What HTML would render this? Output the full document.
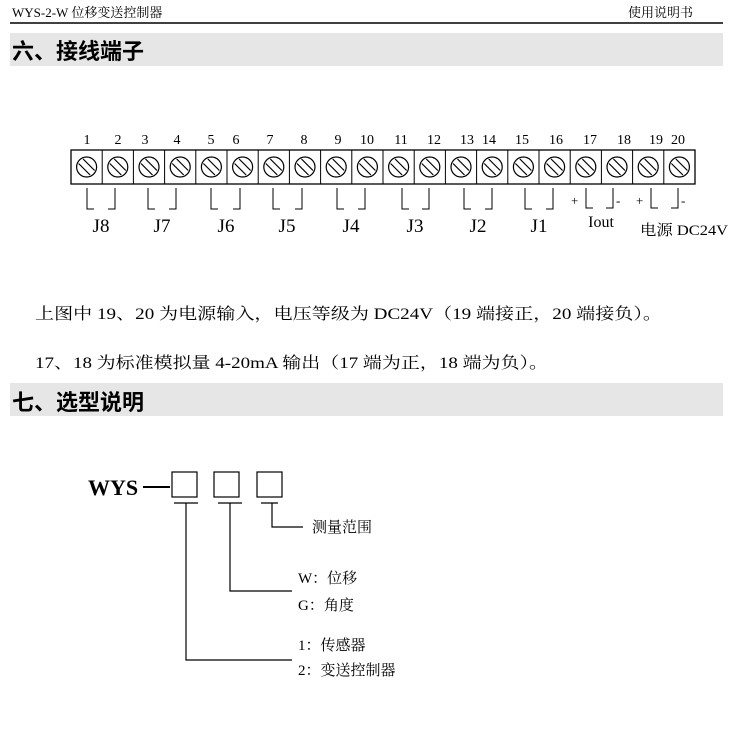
<!DOCTYPE html>
<html><head><meta charset="utf-8"><style>
html,body{margin:0;padding:0;background:#fff;}
svg{display:block;}
.s{font-family:"Liberation Serif","Noto Serif CJK SC",serif;}
.h{font-family:"Liberation Sans","Noto Sans CJK SC",sans-serif;font-weight:bold;}
</style></head><body>
<svg width="750" height="749" viewBox="0 0 750 749" xmlns="http://www.w3.org/2000/svg">
<defs>
<g id="sc"><circle r="10" fill="none" stroke="#000" stroke-width="1.2"/><line x1="-8" y1="-3.5" x2="3.5" y2="8" stroke="#000" stroke-width="1.2"/><line x1="-3.5" y1="-8" x2="8" y2="3.5" stroke="#000" stroke-width="1.2"/></g>
</defs>
<text class="s" x="12" y="17" font-size="13">WYS-2-W 位移变送控制器</text>
<text class="s" x="628" y="17" font-size="13">使用说明书</text>
<line x1="10" y1="23" x2="723" y2="23" stroke="#000" stroke-width="1.5"/>
<rect x="10" y="33" width="713" height="33" fill="#e6e6e6"/>
<text class="h" x="12" y="59" font-size="22">六、接线端子</text>

<g class="s" font-size="14" text-anchor="middle">
<text x="87" y="144">1</text><text x="118" y="144">2</text><text x="145" y="144">3</text><text x="177" y="144">4</text><text x="211" y="144">5</text><text x="236" y="144">6</text><text x="270" y="144">7</text><text x="304" y="144">8</text><text x="338" y="144">9</text><text x="367" y="144">10</text><text x="401" y="144">11</text><text x="434" y="144">12</text><text x="467" y="144">13</text><text x="489" y="144">14</text><text x="522" y="144">15</text><text x="556" y="144">16</text><text x="590" y="144">17</text><text x="624" y="144">18</text><text x="656" y="144">19</text><text x="678" y="144">20</text>
</g>
<rect x="71" y="150" width="624" height="34" fill="none" stroke="#000" stroke-width="1.3"/>
<g stroke="#000" stroke-width="1">
<line x1="102.2" y1="150" x2="102.2" y2="184"/><line x1="133.4" y1="150" x2="133.4" y2="184"/><line x1="164.6" y1="150" x2="164.6" y2="184"/><line x1="195.8" y1="150" x2="195.8" y2="184"/><line x1="227" y1="150" x2="227" y2="184"/><line x1="258.2" y1="150" x2="258.2" y2="184"/><line x1="289.4" y1="150" x2="289.4" y2="184"/><line x1="320.6" y1="150" x2="320.6" y2="184"/><line x1="351.8" y1="150" x2="351.8" y2="184"/><line x1="383" y1="150" x2="383" y2="184"/><line x1="414.2" y1="150" x2="414.2" y2="184"/><line x1="445.4" y1="150" x2="445.4" y2="184"/><line x1="476.6" y1="150" x2="476.6" y2="184"/><line x1="507.8" y1="150" x2="507.8" y2="184"/><line x1="539" y1="150" x2="539" y2="184"/><line x1="570.2" y1="150" x2="570.2" y2="184"/><line x1="601.4" y1="150" x2="601.4" y2="184"/><line x1="632.6" y1="150" x2="632.6" y2="184"/><line x1="663.8" y1="150" x2="663.8" y2="184"/>
</g>
<g transform="translate(0,167)">
<use href="#sc" x="86.6"/><use href="#sc" x="117.8"/><use href="#sc" x="149"/><use href="#sc" x="180.2"/><use href="#sc" x="211.4"/><use href="#sc" x="242.6"/><use href="#sc" x="273.8"/><use href="#sc" x="305"/><use href="#sc" x="336.2"/><use href="#sc" x="367.4"/><use href="#sc" x="398.6"/><use href="#sc" x="429.8"/><use href="#sc" x="461"/><use href="#sc" x="492.2"/><use href="#sc" x="523.4"/><use href="#sc" x="554.6"/><use href="#sc" x="585.8"/><use href="#sc" x="617"/><use href="#sc" x="648.2"/><use href="#sc" x="679.4"/>
</g>
<g fill="none" stroke="#000" stroke-width="1">
<path d="M87 188V209H94M115 188V209H108"/>
<path d="M148 188V209H155M176 188V209H169"/>
<path d="M211 188V209H218M240 188V209H233"/>
<path d="M273 188V209H280M302 188V209H295"/>
<path d="M337 188V209H344M365 188V209H358"/>
<path d="M402 188V209H409M429 188V209H422"/>
<path d="M464 188V209H471M492 188V209H485"/>
<path d="M525 188V209H532M553 188V209H546"/>
<path d="M586 188V208H593M613 188V208H606"/>
<path d="M651 188V208H658M678 188V208H671"/>
</g>
<g class="s" font-size="19" text-anchor="middle">
<text x="101" y="232">J8</text><text x="162" y="232">J7</text><text x="226" y="232">J6</text><text x="287" y="232">J5</text><text x="351" y="232">J4</text><text x="415" y="232">J3</text><text x="478" y="232">J2</text><text x="539" y="232">J1</text>
</g>
<text class="s" x="601" y="227" font-size="16" text-anchor="middle">Iout</text>
<text class="s" x="571" y="205" font-size="13">+</text><text class="s" x="616" y="205" font-size="13">-</text>
<text class="s" x="636" y="205" font-size="13">+</text><text class="s" x="681" y="205" font-size="13">-</text>
<text class="s" x="640" y="235" font-size="15" textLength="88" lengthAdjust="spacingAndGlyphs">电源 DC24V</text>

<text class="s" x="35" y="319" font-size="16" textLength="627" lengthAdjust="spacingAndGlyphs">上图中 19、20 为电源输入，电压等级为 DC24V（19 端接正，20 端接负）。</text>
<text class="s" x="35" y="368" font-size="16" textLength="513" lengthAdjust="spacingAndGlyphs">17、18 为标准模拟量 4-20mA 输出（17 端为正，18 端为负）。</text>

<rect x="10" y="383" width="713" height="33" fill="#e6e6e6"/>
<text class="h" x="12" y="410" font-size="22">七、选型说明</text>

<text class="s" x="88" y="495" font-size="22" font-weight="bold">WYS</text>
<line x1="143" y1="487" x2="170" y2="487" stroke="#000" stroke-width="2"/>
<g fill="none" stroke="#000" stroke-width="1.2">
<rect x="172" y="472" width="25" height="25"/>
<rect x="214" y="472" width="25" height="25"/>
<rect x="257" y="472" width="25" height="25"/>
<path d="M174 503H198M186 503V660H292"/>
<path d="M218 503H242M230 503V591H292"/>
<path d="M261 503H278M272 503V527H303"/>
</g>
<g class="s" font-size="15">
<text x="312" y="532">测量范围</text>
<text x="298" y="583">W：位移</text>
<text x="298" y="610">G：角度</text>
<text x="298" y="650">1：传感器</text>
<text x="298" y="675">2：变送控制器</text>
</g>
</svg>
</body></html>
